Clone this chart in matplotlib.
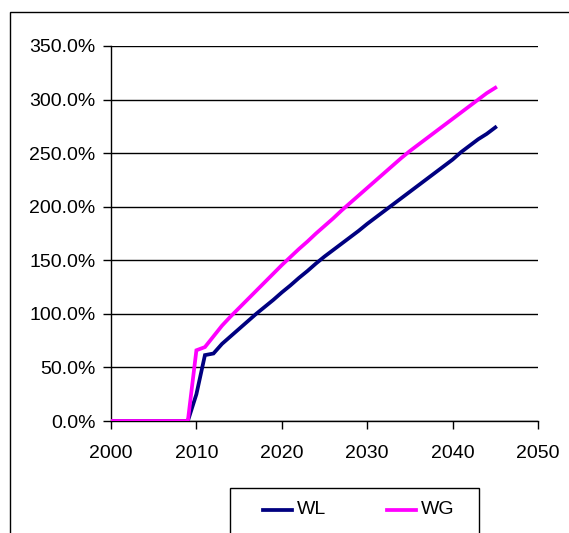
import matplotlib
matplotlib.use('Agg')
import matplotlib.pyplot as plt
from matplotlib.patches import Rectangle
from matplotlib.lines import Line2D
from matplotlib.ticker import FuncFormatter

plt.rcParams['font.family'] = ['Liberation Sans', 'DejaVu Sans']

years = list(range(2000, 2046))
wl = [0, 0, 0, 0, 0, 0, 0, 0, 0, 0,
      25, 61.5, 63, 72, 79, 86, 93, 100, 106.5, 113,
      120, 126.5, 133.5, 140, 147, 153.5, 159.5, 165.5, 171.5, 177.5,
      184, 190, 196, 202, 208, 214, 220, 226, 232, 238,
      244, 251, 257, 263, 268, 274]
wg = [0, 0, 0, 0, 0, 0, 0, 0, 0, 0,
      66, 69, 79, 89, 97.5, 105.5, 113.5, 121.5, 129.5, 137.5,
      145.5, 153, 160.5, 167.5, 175, 182, 189, 196.5, 203.5, 210.5,
      217.5, 224.5, 231.5, 238.5, 245.5, 252, 258, 264, 270, 276,
      282, 288, 294, 300, 306, 311]
series_names = ['WL', 'WG']
series_colors = ['#000080', '#FF00FF']
y_ticks = [0, 50, 100, 150, 200, 250, 300, 350]
x_ticks = [2000, 2010, 2020, 2030, 2040, 2050]

W, H = 569, 533
fig = plt.figure(figsize=(W / 100, H / 100), dpi=100)
ax = fig.add_axes([111 / W, 1 - 421 / H, (538 - 111) / W, (421 - 46) / H])

# outer chart border (cropped at right and bottom like the original)
fig.add_artist(Rectangle((10 / W, -0.05), 1.2, 1 - 12 / H + 0.05,
                         transform=fig.transFigure, fill=False,
                         edgecolor='black', linewidth=1.0))

for vals, name, col in zip([wl, wg], series_names, series_colors):
    ax.plot(years, vals, color=col, linewidth=2.7, label=name,
            solid_joinstyle='miter', zorder=3)

ax.set_xlim(2000, 2050)
ax.set_ylim(0, 350)
ax.set_xticks(x_ticks)
ax.set_yticks(y_ticks)
ax.yaxis.set_major_formatter(FuncFormatter(lambda v, p: '%.1f%%' % v))
ax.grid(axis='y', color='black', linewidth=1.0)
ax.set_axisbelow(True)
for s in ['top', 'right']:
    ax.spines[s].set_visible(False)
for s in ['left', 'bottom']:
    ax.spines[s].set_linewidth(1.0)
ax.tick_params(direction='out', length=6, width=1.0, labelsize=14,
               colors='black', pad=5)
ax.tick_params(axis='x', pad=11)

# legend box drawn by hand so it runs off the bottom like the original
fig.add_artist(Rectangle((230 / W, -0.05), (479 - 230) / W, 1 - 488 / H + 0.05,
                         transform=fig.transFigure, fill=False,
                         edgecolor='black', linewidth=1.0))
ly = 1 - 510 / H
for (x0, x1, tx), name, col in zip([(263, 292, 297), (387, 416, 421)],
                                    series_names, series_colors):
    fig.add_artist(Line2D([x0 / W, x1 / W], [ly, ly], color=col,
                          linewidth=2.7, transform=fig.transFigure))
    fig.text(tx / W, ly, name, fontsize=14, va='center', ha='left')

fig.savefig('out.png', dpi=100)
